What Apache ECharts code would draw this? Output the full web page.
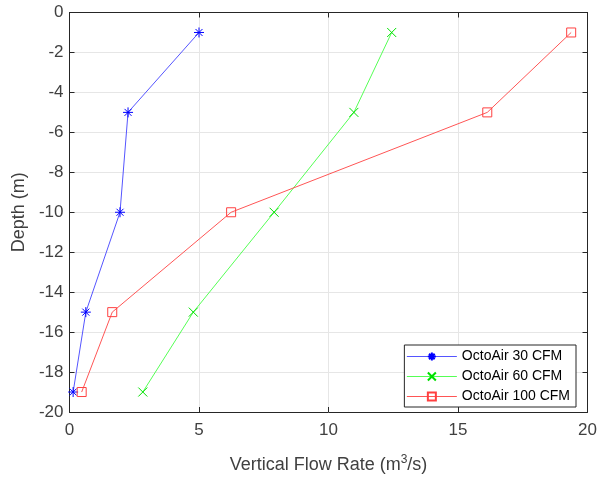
<!DOCTYPE html>
<html><head><meta charset="utf-8">
<script src="https://cdn.jsdelivr.net/npm/echarts@6/dist/echarts.min.js"></script>
<style>html,body{margin:0;padding:0;background:#fff}#c{width:610px;height:479px}</style>
</head><body><div id="c"></div>
<script>
const depths = [-1, -5, -10, -15, -19];
const flow30 = [5.0, 2.26, 1.95, 0.63, 0.14];
const flow60 = [12.44, 10.98, 7.9, 4.78, 2.83];
const flow100 = [19.37, 16.13, 6.24, 1.65, 0.47];
const seriesNames = ['OctoAir 30 CFM', 'OctoAir 60 CFM', 'OctoAir 100 CFM'];
const xTitleParts = ['Vertical Flow Rate (m', '3', '/s)'];
const yTitle = 'Depth (m)';

const font = 'Liberation Sans, Arial, sans-serif';
const axisCol = '#262626';
const textCol = '#404040';
const asterisk = 'path://M0,-5L0,5M-5,0L5,0M-3.5,-3.5L3.5,3.5M-3.5,3.5L3.5,-3.5';
const cross = 'path://M-5,-5L5,5M-5,5L5,-5';
const square = 'path://M-5,-5L5,-5L5,5L-5,5Z';

function mk(name, xs, color, lineColor, symbol, size, fill) {
  return {
    name, type: 'line', data: xs.map((x, i) => [x, depths[i]]),
    symbol, symbolSize: size, showAllSymbol: true,
    lineStyle: {color: lineColor, width: 1},
    itemStyle: {color: fill || color, borderColor: color, borderWidth: 1},
    emphasis: {disabled: true}, animation: false
  };
}

const grid = {left: 69.5, top: 12.5, width: 518, height: 408.2};
const chart = echarts.init(document.getElementById('c'), null, {width: 610, height: 479});
chart.setOption({
  animation: false,
  textStyle: {fontFamily: font},
  grid,
  legend: {
    right: 34, top: 345, orient: 'vertical', itemGap: 3, itemWidth: 50, itemHeight: 10,
    backgroundColor: '#fff', borderColor: '#262626', borderWidth: 1, padding: [3, 6, 2, 2],
    textStyle: {fontSize: 14, color: '#000', fontFamily: font, lineHeight: 17},
    lineStyle: {width: 1},
    data: seriesNames
  },
  xAxis: [{
    type: 'value', min: 0, max: 20, interval: 5,
    name: '{a|' + xTitleParts[0] + '}{s|' + xTitleParts[1] + '}{a|' + xTitleParts[2] + '}',
    nameLocation: 'middle', nameGap: 42,
    nameTextStyle: {
      fontSize: 18, color: textCol, fontFamily: font,
      rich: {
        a: {fontSize: 18, color: textCol, fontFamily: font, lineHeight: 22},
        s: {fontSize: 12, color: textCol, fontFamily: font, lineHeight: 22, verticalAlign: 'top'}
      }
    },
    axisLine: {show: true, onZero: false, lineStyle: {color: axisCol}},
    axisTick: {show: true, inside: true, length: 5, lineStyle: {color: axisCol}},
    axisLabel: {fontSize: 17, color: textCol, margin: 10},
    splitLine: {show: true, lineStyle: {color: '#e6e6e6'}}
  }, {
    type: 'value', min: 0, max: 20, interval: 5, position: 'top',
    axisLine: {show: true, onZero: false, lineStyle: {color: axisCol}},
    axisTick: {show: true, inside: true, length: 5, lineStyle: {color: axisCol}},
    axisLabel: {show: false}, splitLine: {show: false}
  }],
  yAxis: [{
    type: 'value', min: -20, max: 0, interval: 2,
    name: yTitle, nameLocation: 'middle', nameGap: 28,
    nameTextStyle: {fontSize: 18, color: textCol, fontFamily: font},
    axisLine: {show: true, onZero: false, lineStyle: {color: axisCol}},
    axisTick: {show: true, inside: true, length: 5, lineStyle: {color: axisCol}},
    axisLabel: {fontSize: 17, color: textCol, margin: 6},
    splitLine: {show: true, lineStyle: {color: '#e6e6e6'}}
  }, {
    type: 'value', min: -20, max: 0, interval: 2, position: 'right',
    axisLine: {show: true, onZero: false, lineStyle: {color: axisCol}},
    axisTick: {show: true, inside: true, length: 5, lineStyle: {color: axisCol}},
    axisLabel: {show: false}, splitLine: {show: false}
  }],
  series: [
    mk(seriesNames[0], flow30, '#0000ff', '#5555ff', asterisk, 10),
    mk(seriesNames[1], flow60, '#00e000', '#55ff55', cross, 9),
    mk(seriesNames[2], flow100, '#ff4040', '#ff5555', square, 9, 'rgba(255,255,255,0)')
  ]
});
</script></body></html>
